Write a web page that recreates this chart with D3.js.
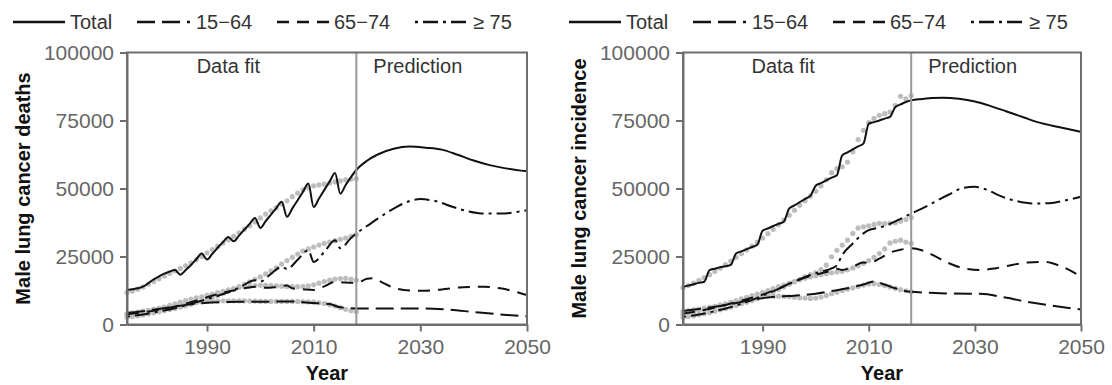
<!DOCTYPE html>
<html>
<head>
<meta charset="utf-8">
<script src="https://cdn.jsdelivr.net/npm/d3@7"></script>
<style>
  body { margin: 0; background: #fff; }
  svg { font-family: "Liberation Sans", Arial, sans-serif; }
</style>
</head>
<body>
<svg id="chart" width="1112" height="385"></svg>
<script>
// ---- data ----
const obsYears = d3.range(1975, 2019)
const xTicks = [1990, 2010, 2030, 2050]
const yTicks = [0, 25000, 50000, 75000, 100000]
const fitEnd = 2018
const seriesNames = ['Total', '15\u221264', '65\u221274', '\u2265 75']

// deaths, model  [year, value]
const deathsTotalModel = [[1975,12700],[1976,13000],[1977,13300],[1978,13900],[1979,15200],[1980,16600],[1981,17700],[1982,18700],[1983,19500],[1984,20000],[1985,18300],[1986,20000],[1987,21900],[1988,24000],[1989,26100],[1990,23900],[1991,26000],[1992,28200],[1993,30300],[1994,32200],[1995,30600],[1996,32700],[1997,34900],[1998,37000],[1999,39200],[2000,35500],[2001,38000],[2002,40400],[2003,42800],[2004,45100],[2005,39600],[2006,42700],[2007,45700],[2008,48800],[2009,51800],[2010,43200],[2011,46300],[2012,49500],[2013,52600],[2014,55700],[2015,48100],[2016,51300],[2017,54200],[2018,56800],[2020,60200],[2022,62500],[2025,64600],[2028,65400],[2031,65000],[2034,64300],[2037,62400],[2040,60300],[2043,58600],[2046,57400],[2050,56300]]
const deaths1564Model = [[1975,4300],[1978,4900],[1981,5700],[1984,6600],[1987,7400],[1990,8000],[1993,8200],[1996,8400],[1999,8400],[2002,8400],[2005,8500],[2008,8200],[2010,7900],[2013,7500],[2015,6300],[2018,5900],[2022,5900],[2026,5900],[2031,5900],[2035,5500],[2040,4600],[2045,3700],[2050,3000]]
const deaths6574Model = [[1975,3800],[1978,4500],[1981,5400],[1984,6600],[1987,8200],[1990,10000],[1993,11700],[1996,12900],[1999,13900],[2001,13500],[2003,13800],[2005,14300],[2006,13300],[2008,13000],[2010,12700],[2012,14000],[2014,15700],[2016,15400],[2018,15300],[2020,16800],[2021,17000],[2023,15300],[2025,13500],[2028,12500],[2031,12400],[2034,12900],[2038,13700],[2042,13900],[2045,13300],[2050,10800]]
const deaths75Model = [[1975,2900],[1978,3700],[1981,4800],[1984,6000],[1987,7600],[1990,9300],[1993,11200],[1996,13500],[1999,16300],[2000,15800],[2002,18600],[2004,21200],[2005,20400],[2007,23800],[2009,27300],[2010,23000],[2012,26700],[2014,31000],[2015,28000],[2017,31800],[2018,33500],[2020,36200],[2022,38900],[2025,42600],[2028,45400],[2030,46100],[2033,45300],[2036,43300],[2039,41600],[2042,40800],[2045,40800],[2050,42000]]

// deaths, observed 1975-2018
const deathsTotalObs = [11800,12300,13000,13800,14800,15800,16800,17800,18800,19700,20600,21600,22700,23800,25000,26300,27500,28800,30000,31200,32400,33700,35000,36300,37700,39200,40600,41800,43000,44300,45500,47000,48300,49500,50300,51000,51300,51600,52000,52400,52800,53200,53400,53600]
const deaths1564Obs = [4000,4300,4600,4900,5200,5600,5900,6300,6700,7100,7400,7700,8000,8200,8400,8500,8600,8600,8700,8700,8700,8700,8700,8600,8600,8500,8500,8500,8500,8500,8500,8500,8500,8400,8300,8200,8000,7700,7300,6800,6200,5600,5100,4700]
const deaths6574Obs = [3600,3900,4200,4600,5000,5400,5900,6400,7000,7600,8200,8800,9300,9800,10200,10700,11200,11700,12200,12700,13200,13600,13900,14100,14300,14400,14400,14300,14200,14100,14000,13900,13900,14000,14200,14600,15200,15800,16300,16700,16900,17000,16700,16300]
const deaths75Obs = [2700,2900,3200,3500,3900,4300,4700,5100,5500,5900,6400,6900,7400,8000,8600,9300,10000,10700,11400,12200,13000,13900,14800,15700,16600,17500,18600,19700,20800,22200,23500,24700,25900,27000,27800,28500,29200,29800,30300,30800,31300,31800,32400,33000]

// incidence, model
const incTotalModel = [[1975,13900],[1976,14300],[1977,14800],[1978,15300],[1979,15700],[1980,20000],[1981,20500],[1982,21000],[1983,21400],[1984,21900],[1985,26100],[1986,26900],[1987,27700],[1988,28500],[1989,29300],[1990,34500],[1991,35300],[1992,36200],[1993,37000],[1994,37800],[1995,42600],[1996,43800],[1997,45000],[1998,46200],[1999,47300],[2000,51000],[2001,52000],[2002,53000],[2003,54000],[2004,54900],[2005,62200],[2006,63300],[2007,64400],[2008,65500],[2009,66500],[2010,73800],[2011,74400],[2012,75000],[2013,75700],[2014,76300],[2015,79900],[2016,80900],[2017,81800],[2018,82400],[2020,82900],[2022,83300],[2024,83400],[2027,83000],[2030,82000],[2033,80300],[2036,78300],[2039,76300],[2042,74300],[2046,72500],[2050,70800]]
const inc1564Model = [[1975,5000],[1978,5700],[1981,6500],[1984,7500],[1987,8700],[1990,9700],[1993,10300],[1996,10600],[2000,11300],[2003,12300],[2006,13300],[2009,14700],[2011,15800],[2013,14700],[2015,13300],[2018,12000],[2021,11700],[2025,11400],[2031,11300],[2036,9800],[2040,8300],[2045,6800],[2050,5500]]
const inc6574Model = [[1975,4000],[1978,5000],[1981,6200],[1984,7700],[1987,9300],[1990,11000],[1993,13200],[1996,15800],[1999,17800],[2002,19300],[2004,20500],[2005,20000],[2007,21300],[2009,22800],[2010,22600],[2012,24200],[2014,26400],[2016,27500],[2018,28000],[2020,27300],[2022,25600],[2025,22600],[2028,20600],[2031,20000],[2034,20700],[2037,21900],[2040,22800],[2043,23000],[2046,21600],[2050,17600]]
const inc75Model = [[1975,2800],[1978,3700],[1981,4900],[1984,6400],[1987,8300],[1990,10600],[1993,13100],[1996,15800],[1999,18200],[2001,19400],[2003,20600],[2004,21800],[2005,25500],[2007,29800],[2009,33500],[2010,34700],[2012,35600],[2014,37000],[2016,38800],[2018,40800],[2020,42600],[2022,44600],[2025,47700],[2028,50300],[2030,50600],[2032,49700],[2035,47100],[2038,45300],[2041,44500],[2044,44600],[2047,45600],[2050,47000]]

// incidence, observed 1975-2018
const incTotalObs = [13500,14300,15200,16200,17200,18300,19500,20700,22000,23300,24700,26000,27400,28800,30300,31800,33400,35000,36700,38400,40200,42000,43800,45500,47200,49000,51000,53200,55800,57300,58000,59700,63500,68000,71400,74200,75700,76900,77500,78100,80500,83900,83000,84200]
const inc1564Obs = [4800,5100,5400,5700,6000,6300,6700,7100,7500,7900,8300,8700,9100,9500,9800,10100,10300,10400,10400,10300,10200,10000,9800,9700,9600,9700,10100,10700,11300,11900,12500,13000,13500,14000,14500,14900,15000,14700,14300,13800,13300,12800,12400,12000]
const inc6574Obs = [3800,4200,4600,5000,5500,6000,6500,7000,7600,8200,8800,9400,10000,10600,11200,11800,12500,13200,13900,14500,15200,15800,16400,17000,17500,17900,18300,18700,19000,19300,19600,20100,20800,21600,22500,23500,24700,26100,27800,30000,30600,31000,30300,29800]
const inc75Obs = [2600,2900,3200,3600,4000,4400,4900,5400,5900,6400,7000,7600,8200,8800,9500,10300,11100,12000,12900,13800,14800,15700,16600,17500,18300,19100,20200,21800,24900,27300,29200,31000,33500,35500,35900,36300,36800,37200,37100,37200,37400,38000,38600,39300]

// ---- layout ----
const plotTop = 52.5, plotBottom = 324.5
const dashes = [null, '18,7', '12,8', '3,5,15,5']
const dotColor = '#bdbdbd'
const axisColor = '#6e6e6e'

const panels = [
  { x0: 0, left: 127, right: 527, ylabel: 'Male lung cancer deaths',
    model: [deathsTotalModel, deaths1564Model, deaths6574Model, deaths75Model],
    obs: [deathsTotalObs, deaths1564Obs, deaths6574Obs, deaths75Obs] },
  { x0: 556, left: 683, right: 1081, ylabel: 'Male lung cancer incidence',
    model: [incTotalModel, inc1564Model, inc6574Model, inc75Model],
    obs: [incTotalObs, inc1564Obs, inc6574Obs, inc75Obs] }
]

// legend item offsets inside a panel (line start, line end, text x)
const legendPos = [[13, 65, 70], [137, 190, 196], [277, 329, 334], [415, 467, 473]]

const svg = d3.select('#chart')

panels.forEach(p => {
  const x = d3.scaleLinear().domain([1975, 2050]).range([p.left, p.right])
  const y = d3.scaleLinear().domain([0, 100000]).range([plotBottom, plotTop])
  const g = svg.append('g')

  // legend
  const lg = g.append('g').attr('transform', `translate(${p.x0},22)`)
  seriesNames.forEach((name, i) => {
    const [a, b, t] = legendPos[i]
    lg.append('line')
      .attr('x1', a).attr('x2', b).attr('y1', 0).attr('y2', 0)
      .attr('stroke', '#111').attr('stroke-width', 2.6)
      .attr('stroke-dasharray', dashes[i])
    lg.append('text')
      .attr('x', t).attr('y', 7)
      .attr('font-size', 20).attr('fill', '#333')
      .text(name)
  })

  // observed points
  p.obs.forEach(vals => {
    g.append('g').selectAll('circle')
      .data(vals)
      .enter()
      .append('circle')
      .attr('cx', (d, i) => x(obsYears[i]))
      .attr('cy', d => y(d))
      .attr('r', 2.6)
      .attr('fill', dotColor)
  })

  // model lines
  const line = d3.line()
    .x(d => x(d[0]))
    .y(d => y(d[1]))
    .curve(d3.curveMonotoneX)

  p.model.forEach((data, i) => {
    g.append('path')
      .attr('d', line(data))
      .attr('fill', 'none')
      .attr('stroke', '#111')
      .attr('stroke-width', 2)
      .attr('stroke-dasharray', dashes[i])
  })

  // fit / prediction divider
  g.append('line')
    .attr('x1', x(fitEnd)).attr('x2', x(fitEnd))
    .attr('y1', plotTop).attr('y2', plotBottom)
    .attr('stroke', '#9a9a9a').attr('stroke-width', 2)

  g.append('text')
    .attr('x', x(fitEnd) - 128).attr('y', 73)
    .attr('text-anchor', 'middle')
    .attr('font-size', 20).attr('fill', '#333')
    .text('Data fit')
  g.append('text')
    .attr('x', x(fitEnd) + 17).attr('y', 73)
    .attr('font-size', 20).attr('fill', '#333')
    .text('Prediction')

  // frame
  g.append('rect')
    .attr('x', p.left).attr('y', plotTop)
    .attr('width', p.right - p.left).attr('height', plotBottom - plotTop)
    .attr('fill', 'none').attr('stroke', axisColor).attr('stroke-width', 2)

  // axes
  const yAxis = g.append('g')
    .attr('transform', `translate(${p.left},0)`)
    .call(d3.axisLeft(y).tickValues(yTicks).tickFormat(d3.format('d')).tickSize(7).tickSizeOuter(0).tickPadding(6))
  const xAxis = g.append('g')
    .attr('transform', `translate(0,${plotBottom})`)
    .call(d3.axisBottom(x).tickValues(xTicks).tickFormat(d3.format('d')).tickSize(7).tickSizeOuter(0).tickPadding(8))

  ;[yAxis, xAxis].forEach(ax => {
    ax.select('.domain').attr('stroke', axisColor).attr('stroke-width', 2)
    ax.selectAll('.tick line').attr('stroke', axisColor).attr('stroke-width', 2)
    ax.selectAll('.tick text')
      .attr('fill', '#666')
      .attr('font-size', 21)
      .attr('font-family', '"Liberation Sans", Arial, sans-serif')
  })

  // axis titles
  g.append('text')
    .attr('transform', `translate(${p.x0 + 30},${(plotTop + plotBottom) / 2}) rotate(-90)`)
    .attr('text-anchor', 'middle')
    .attr('font-size', 20).attr('font-weight', 'bold').attr('fill', '#111')
    .text(p.ylabel)
  g.append('text')
    .attr('x', (p.left + p.right) / 2).attr('y', 380)
    .attr('text-anchor', 'middle')
    .attr('font-size', 20).attr('font-weight', 'bold').attr('fill', '#111')
    .text('Year')
})
</script>
</body>
</html>
